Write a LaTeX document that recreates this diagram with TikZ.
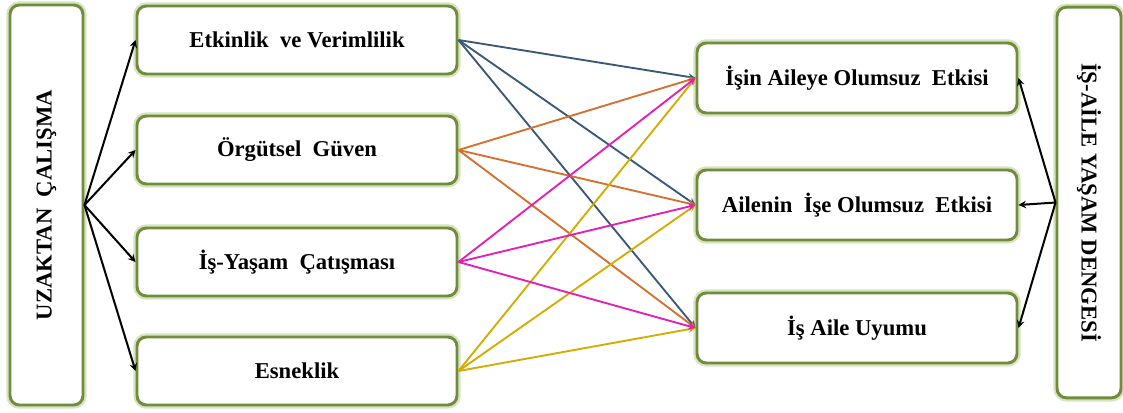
\documentclass[tikz,border=0pt]{standalone}
\usepackage{fontspec}
\setmainfont{Liberation Serif}
\definecolor{boxgreen}{RGB}{112,140,60}
\definecolor{glowgreen}{RGB}{214,228,192}
\definecolor{okblue}{RGB}{58,88,120}
\definecolor{okorange}{RGB}{214,112,48}
\definecolor{okmagenta}{RGB}{224,32,184}
\definecolor{okgold}{RGB}{212,172,0}

\begin{document}
\begin{tikzpicture}[>=stealth, x=0.75pt, y=-0.75pt,
  kutu/.style={shape=rectangle, rounded corners=7pt, draw=boxgreen, line width=2.2pt,
    fill=white, inner sep=0pt, align=center,
    font=\fontsize{17}{20}\selectfont\rmfamily\bfseries,
    preaction={draw=glowgreen, line width=5.5pt}},
  solkutu/.style={kutu, minimum width=240pt, minimum height=51pt},
  sagkutu/.style={kutu, minimum width=240pt, minimum height=52.5pt},
  ok/.style={->, line width=1.5pt, black},
  renkli/.style={->, line width=1.4pt}]
\useasboundingbox (0,0) rectangle (1123,412);

\node (uzak) at (46.5,205) [kutu, rotate=90, minimum width=300pt, minimum height=54.75pt] {UZAKTAN\ \ ÇALIŞMA};
\node (denge) at (1089,202.5) [kutu, rotate=-90, minimum width=293pt, minimum height=48pt] {İŞ-AİLE YAŞAM DENGESİ};

\node (etkinlik) at (297,40)  [solkutu] {Etkinlik\ \ ve Verimlilik};
\node  (guven)   at (297,150) [solkutu] {Örgütsel\ \ Güven};
\node  (catisma) at (297,262) [solkutu] {İş-Yaşam\ \ Çatışması};
\node  (esnek)   at (297,371) [solkutu] {Esneklik};

\node (isaile)  at (857,78)  [sagkutu] {İşin Aileye Olumsuz\ \ Etkisi};
\node (aileis)  at (857,205) [sagkutu] {Ailenin\ \ İşe Olumsuz\ \ Etkisi};
\node (uyum)    at (857,328) [sagkutu] {İş Aile Uyumu};

\draw [ok] (uzak.south) -- (etkinlik.west);
\draw [ok] (uzak.south) -- (guven.west);
\draw [ok] (uzak.south) -- (catisma.west);
\draw [ok] (uzak.south) -- (esnek.west);

\draw [ok] (denge.south) -- (isaile.east);
\draw [ok] (denge.south) -- (aileis.east);
\draw [ok] (denge.south) -- (uyum.east);

\draw [renkli, okblue] (etkinlik.east) -- (isaile.west);
\draw [renkli, okblue] (etkinlik.east) -- (aileis.west);
\draw [renkli, okblue] (etkinlik.east) -- (uyum.west);
\draw [renkli, okorange] (guven.east) -- (isaile.west);
\draw [renkli, okorange] (guven.east) -- (aileis.west);
\draw [renkli, okorange] (guven.east) -- (uyum.west);
\draw [renkli, okgold] (esnek.east) -- (isaile.west);
\draw [renkli, okgold] (esnek.east) -- (aileis.west);
\draw [renkli, okgold] (esnek.east) -- (uyum.west);
\draw [renkli, okmagenta] (catisma.east) -- (isaile.west);
\draw [renkli, okmagenta] (catisma.east) -- (aileis.west);
\draw [renkli, okmagenta] (catisma.east) -- (uyum.west);
\end{tikzpicture}
\end{document}
